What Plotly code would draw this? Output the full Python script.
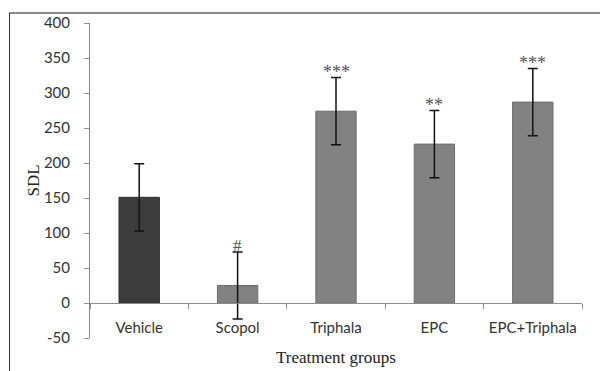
import plotly.graph_objects as go

categories = ["Vehicle", "Scopol", "Triphala", "EPC", "EPC+Triphala"]
sdl_mean = [151, 25, 274, 227, 287]
sdl_err = [48, 48, 48, 48, 48]
significance = ["", "#", "***", "**", "***"]
bar_colors = ["#3c3c3c", "#828282", "#828282", "#828282", "#828282"]
line_colors = ["#2a2a2a", "#6c6c6c", "#6c6c6c", "#6c6c6c", "#6c6c6c"]
y_ticks = [-50, 0, 50, 100, 150, 200, 250, 300, 350, 400]
y_tick_labels = ["-50", "0", "50", "100", "150", "200", "250", "300", "350", "400"]

W, H = 600, 371
L, R, T, B = 90, 18, 23, 33
pw, ph = W - L - R, H - T - B


def px_x(p):
    return (p - L) / pw


def px_y(p):
    return (H - B - p) / ph


fig = go.Figure()
fig.add_trace(go.Bar(
    x=categories, y=sdl_mean, width=0.41,
    marker=dict(color=bar_colors, line=dict(color=line_colors, width=1)),
    error_y=dict(type="data", array=sdl_err, visible=True, color="#111111", thickness=1.5, width=5),
    showlegend=False, hoverinfo="skip",
))

for c, m, e, s in zip(categories, sdl_mean, sdl_err, significance):
    if s:
        fig.add_annotation(x=c, y=m + e, text=s, showarrow=False, yanchor="bottom",
                           yshift=-5 if s == "#" else -6,
                           font=dict(family="Liberation Serif", size=17 if s == "#" else 18, color="#555555"))

ymin, ymax = -50, 400
zero_pos = (0 - ymin) / (ymax - ymin)

fig.update_layout(
    width=W, height=H,
    margin=dict(l=L, r=R, t=T, b=B, pad=0),
    paper_bgcolor="white", plot_bgcolor="white",
    bargap=0.59,
    xaxis=dict(
        anchor="free", position=zero_pos,
        showline=True, linecolor="#8c8c8c", linewidth=1,
        ticks="outside", tickson="boundaries", ticklen=5, tickcolor="#8c8c8c",
        tickfont=dict(family="Lato", size=15, color="#333333"),
        ticklabelstandoff=11,
        showgrid=False, zeroline=False,
        range=[-0.5, 4.5], fixedrange=True,
    ),
    yaxis=dict(
        range=[ymin, ymax], tickvals=y_ticks, ticktext=y_tick_labels,
        showline=True, linecolor="#8c8c8c", linewidth=1,
        ticks="outside", ticklen=5, tickcolor="#8c8c8c",
        tickfont=dict(family="Lato", size=15, color="#333333"),
        ticklabelstandoff=11,
        showgrid=False, zeroline=False, fixedrange=True,
    ),
    font=dict(family="Lato"),
)

# axis titles
fig.add_annotation(xref="paper", yref="paper", x=0.5, y=px_y(357), text="Treatment groups",
                   showarrow=False, font=dict(family="Liberation Serif", size=17, color="#222222"),
                   xanchor="center", yanchor="middle")
fig.add_annotation(xref="paper", yref="paper", x=px_x(33), y=0.5, text="SDL", textangle=-90,
                   showarrow=False, font=dict(family="Liberation Serif", size=17, color="#222222"),
                   xanchor="center", yanchor="middle")

# outer frame
fig.add_shape(type="line", xref="paper", yref="paper", x0=px_x(9), x1=px_x(600), y0=px_y(13), y1=px_y(13),
              line=dict(color="#8a8a8a", width=2))
fig.add_shape(type="line", xref="paper", yref="paper", x0=px_x(9.5), x1=px_x(9.5), y0=px_y(13), y1=px_y(371),
              line=dict(color="#333333", width=1))

fig.write_html("out.html", config={"displayModeBar": False},
               post_script="document.body.style.margin='0';document.body.style.padding='0';")
